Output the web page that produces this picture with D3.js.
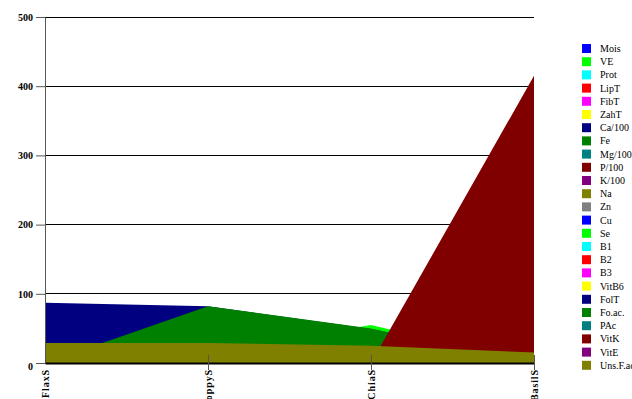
<!DOCTYPE html>
<html><head><meta charset="utf-8">
<script src="https://cdn.jsdelivr.net/npm/d3@7"></script>
<style>body{margin:0;background:#fff;} svg{display:block;}</style>
</head><body>
<svg id="c" width="632" height="399"></svg>
<script>
const categories = ["FlaxS", "PoppyS", "ChiaS", "BasilS"];
const seriesNames = ["Mois","VE","Prot","LipT","FibT","ZahT","Ca/100","Fe","Mg/100","P/100","K/100","Na","Zn","Cu","Se","B1","B2","B3","VitB6","FolT","Fo.ac.","PAc","VitK","VitE","Uns.F.ac"];
const Mois = [7, 6, 6, 7];
const VE = [5, 5, 5, 2];
const Prot = [18, 18, 17, 14];
const LipT = [22, 20, 20, 10];
const FibT = [27, 20, 22, 12];
const ZahT = [2, 3, 0, 1];
const Ca100 = [3, 14, 6, 2];
const Fe = [6, 10, 8, 2];
const Mg100 = [4, 3, 3, 2];
const P100 = [6, 9, 9, 3];
const K100 = [8, 7, 4, 2];
const Na = [30, 26, 16, 10];
const Zn = [4, 8, 5, 1];
const Cu = [1, 2, 1, 0];
const Se = [25, 14, 55, 0];
const B1 = [2, 1, 1, 0];
const B2 = [0, 0, 0, 0];
const B3 = [3, 1, 9, 1];
const VitB6 = [0, 0, 1, 0];
const FolT = [87, 82, 49, 0];
const FoAc = [0, 82, 50, 0];
const PAc = [1, 1, 0, 0];
const VitK = [4, 0, 0, 415];
const VitE = [0, 2, 1, 0];
const UnsFAc = [29, 29, 25, 15];
const seriesValues = [Mois,VE,Prot,LipT,FibT,ZahT,Ca100,Fe,Mg100,P100,K100,Na,Zn,Cu,Se,B1,B2,B3,VitB6,FolT,FoAc,PAc,VitK,VitE,UnsFAc];
const colors = ["#0000ff","#00ff00","#00ffff","#ff0000","#ff00ff","#ffff00","#000080","#008000","#008080","#800000","#800080","#808000","#808080",
                "#0000ff","#00ff00","#00ffff","#ff0000","#ff00ff","#ffff00","#000080","#008000","#008080","#800000","#800080","#808000"];
const yTicks = [0, 100, 200, 300, 400, 500];

const svg = d3.select("#c");
const x = d3.scalePoint().domain(categories).range([45, 534]);
const y = d3.scaleLinear().domain([0, 500]).range([363, 17]);

// gridlines
svg.append("g").selectAll("line").data(yTicks.filter(d => d > 0)).join("line")
  .attr("x1", 45).attr("x2", 534).attr("y1", d => y(d)).attr("y2", d => y(d))
  .attr("stroke", "#000").attr("stroke-width", 1).attr("shape-rendering", "crispEdges");

// areas
const area = d3.area().x((d, i) => x(categories[i])).y0(y(0)).y1(d => y(d));
svg.append("g").selectAll("path").data(seriesValues).join("path")
  .attr("d", d => area(d)).attr("fill", (d, i) => colors[i]);

// y axis
const yAxis = svg.append("g").attr("transform", "translate(45,0)")
  .call(d3.axisLeft(y).tickValues(yTicks).tickSize(9).tickPadding(3));
yAxis.select(".domain").attr("stroke", "#555");
yAxis.selectAll(".tick line").attr("stroke", "#555");
yAxis.selectAll(".tick text").attr("font-family", "Liberation Serif").attr("font-weight", "bold")
  .attr("font-size", 10).attr("fill", "#000");
yAxis.selectAll(".tick").filter(d => d === 0).select("text").attr("dy", "0.6em");

// x axis
const xAxis = svg.append("g").attr("transform", `translate(0,${y(0)})`)
  .call(d3.axisBottom(x).tickSize(0).tickPadding(0));
xAxis.select(".domain").attr("stroke", "#000").attr("stroke-width", 2);
xAxis.selectAll(".tick").filter((d, i) => i > 0).append("line")
  .attr("y1", -8).attr("y2", 7).attr("stroke", "#555");
xAxis.selectAll(".tick text")
  .attr("font-family", "Liberation Serif").attr("font-weight", "bold").attr("font-size", 10).attr("fill", "#000")
  .attr("letter-spacing", "0.9px")
  .attr("text-anchor", "end").attr("transform", "rotate(-90)").attr("x", -6).attr("y", 0).attr("dy", "0.35em");

// legend
const leg = svg.append("g").selectAll("g").data(seriesNames).join("g")
  .attr("transform", (d, i) => `translate(582,${44 + i * 13.2})`);
leg.append("rect").attr("width", 9).attr("height", 9).attr("fill", (d, i) => colors[i]);
leg.append("text").attr("x", 18).attr("y", 8).text(d => d)
  .attr("font-family", "Liberation Serif").attr("font-size", 10).attr("fill", "#000");
</script>
</body></html>
